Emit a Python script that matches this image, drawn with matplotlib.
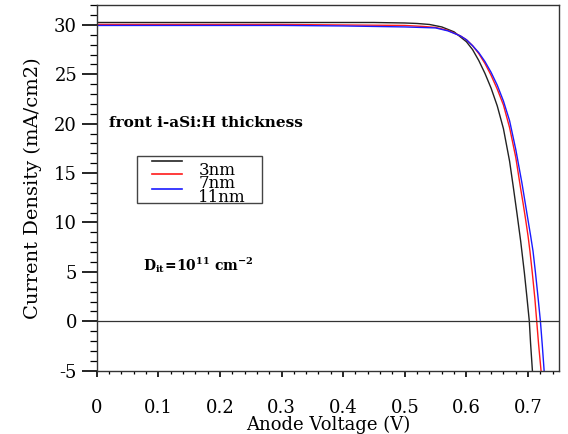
import matplotlib
matplotlib.use("Agg")
import matplotlib.pyplot as plt
from matplotlib.patches import Rectangle
from matplotlib.ticker import MultipleLocator

plt.rcParams['font.family'] = ['DejaVu Serif']
plt.rcParams['mathtext.fontset'] = 'dejavuserif'
plt.rcParams['axes.unicode_minus'] = False

# J-V curves for three front i-aSi:H thicknesses
v_3nm = [0, 0.1, 0.2, 0.3, 0.4, 0.45, 0.5, 0.52, 0.54, 0.56, 0.58, 0.59, 0.60, 0.61,
         0.62, 0.63, 0.64, 0.65, 0.66, 0.67, 0.676, 0.682, 0.688, 0.694, 0.698,
         0.702, 0.704, 0.707]
j_3nm = [30.25, 30.25, 30.25, 30.25, 30.25, 30.25, 30.2, 30.15, 30.05, 29.8, 29.3, 28.8,
         28.3, 27.5, 26.4, 25.1, 23.6, 21.8, 19.5, 16.2, 13.6, 10.9, 8.1, 4.9, 2.5,
         0.0, -2.2, -5.0]

v_7nm = [0, 0.1, 0.2, 0.3, 0.4, 0.5, 0.53, 0.55, 0.57, 0.59, 0.60, 0.61, 0.62, 0.63,
         0.64, 0.65, 0.66, 0.67, 0.68, 0.688, 0.692, 0.696, 0.700, 0.703, 0.707,
         0.711, 0.714, 0.717, 0.721]
j_7nm = [30.05, 30.05, 30.05, 30.05, 30.0, 29.95, 29.85, 29.75, 29.45, 28.9, 28.5, 27.9,
         27.1, 26.1, 24.9, 23.5, 21.9, 19.6, 16.6, 13.4, 11.9, 10.3, 8.6, 7.1, 4.8,
         2.3, 0.0, -2.3, -5.0]

v_11nm = [0, 0.1, 0.2, 0.3, 0.4, 0.5, 0.55, 0.57, 0.59, 0.60, 0.61, 0.62, 0.63, 0.64,
          0.65, 0.66, 0.67, 0.68, 0.69, 0.695, 0.700, 0.704, 0.708, 0.712, 0.716,
          0.720, 0.723, 0.726]
j_11nm = [29.95, 29.95, 29.95, 29.95, 29.9, 29.8, 29.7, 29.4, 28.9, 28.5, 27.9, 27.2,
          26.3, 25.2, 23.9, 22.3, 20.3, 17.4, 14.0, 12.1, 10.2, 8.7, 7.1, 4.9, 2.5,
          0.0, -2.4, -5.0]

labels = ['3nm', '7nm', '11nm']
colors = ['#222222', '#ff1a1a', '#1a1aff']

fig = plt.figure(figsize=(5.68, 4.34), dpi=100)
ax = fig.add_axes([0.170, 0.146, 0.814, 0.842])

curves = [(v_3nm, j_3nm), (v_7nm, j_7nm), (v_11nm, j_11nm)]
for (v, j), c in zip(curves, colors):
    ax.plot(v, j, color=c, lw=1.0)

ax.axhline(0, color='#333333', lw=0.9)

ax.set_xlim(0, 0.75)
ax.set_ylim(-5, 32)
ax.xaxis.set_major_locator(MultipleLocator(0.1))
ax.xaxis.set_minor_locator(MultipleLocator(0.02))
ax.yaxis.set_major_locator(MultipleLocator(5))
ax.yaxis.set_minor_locator(MultipleLocator(1))
ax.set_xticks([0, 0.1, 0.2, 0.3, 0.4, 0.5, 0.6, 0.7])
ax.set_xticklabels(['0', '0.1', '0.2', '0.3', '0.4', '0.5', '0.6', '0.7'])

ax.tick_params(axis='y', which='major', direction='out', length=11, width=1.2,
               labelsize=13, pad=3)
ax.tick_params(axis='y', which='minor', direction='out', length=5, width=0.9)
ax.tick_params(axis='x', which='major', direction='out', length=4.5, width=1.2,
               labelsize=13, pad=16)
ax.tick_params(axis='x', which='minor', direction='out', length=2.5, width=0.9)
for s in ax.spines.values():
    s.set_color('#333333')
    s.set_linewidth(1.0)

ax.set_xlabel('Anode Voltage (V)', fontsize=13, labelpad=-1)
ax.set_ylabel('Current Density (mA/cm2)', fontsize=14, labelpad=9)

ax.text(0.027, 0.677, 'front i-aSi:H thickness', transform=ax.transAxes,
        fontsize=11, fontweight='bold', va='center', ha='left')
ax.text(0.100, 0.288, r'$\mathbf{D_{it}\!=\!10^{11}\ cm^{-2}}$', transform=ax.transAxes,
        fontsize=10, va='center', ha='left')

# hand-built legend box
box = Rectangle((0.087, 0.459), 0.271, 0.128, transform=ax.transAxes,
                facecolor='white', edgecolor='#444444', lw=1.0, zorder=3)
ax.add_patch(box)
handle_y = [0.574, 0.537, 0.498]
text_y = [0.549, 0.511, 0.475]
for lab, c, hy, ty in zip(labels, colors, handle_y, text_y):
    ax.plot([0.119, 0.184], [hy, hy], color=c, lw=1.2, transform=ax.transAxes, zorder=4)
    t = ax.text(0.220, ty, lab, transform=ax.transAxes, fontsize=12,
                va='center', ha='left', zorder=4)
    t.set_clip_path(box)

fig.savefig('out.png', dpi=100)
